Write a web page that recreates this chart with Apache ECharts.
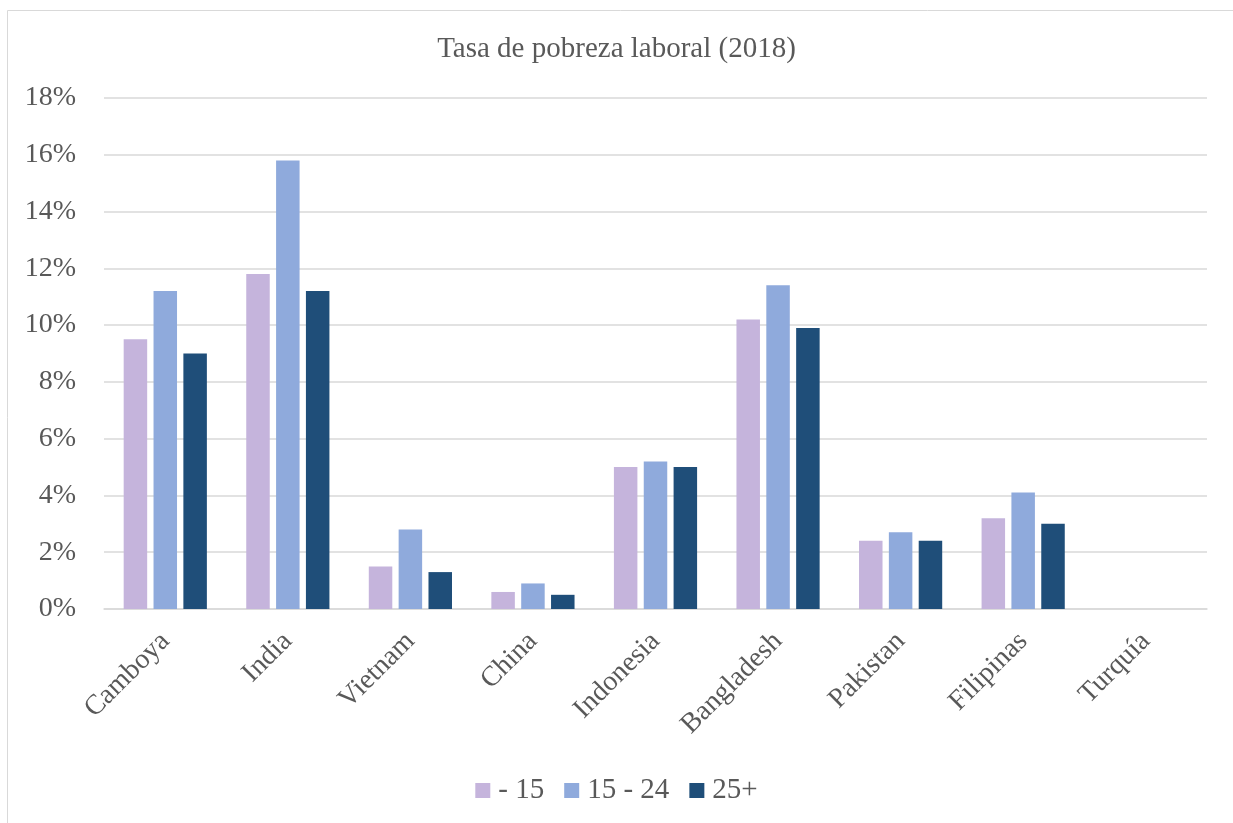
<!DOCTYPE html>
<html><head><meta charset="utf-8">
<script src="https://cdn.jsdelivr.net/npm/echarts@6/dist/echarts.min.js"></script>
<style>html,body{margin:0;padding:0;background:#fff}#c{width:1233px;height:823px}</style>
</head><body><div id="c"></div>
<script>
const categories = ['Camboya','India','Vietnam','China','Indonesia','Bangladesh','Pakistan','Filipinas','Turquía'];
const seriesNames = ['- 15','15 - 24','25+'];
const under15 = [9.5, 11.8, 1.5, 0.6, 5.0, 10.2, 2.4, 3.2, 0];
const age15to24 = [11.2, 15.8, 2.8, 0.9, 5.2, 11.4, 2.7, 4.1, 0];
const age25plus = [9.0, 11.2, 1.3, 0.5, 5.0, 9.9, 2.4, 3.0, 0];
const colors = ['#C5B4DC', '#8FAADC', '#1F4E79'];
const font = '"Liberation Serif", "Times New Roman", serif';
const textColor = '#595959';

const chart = echarts.init(document.getElementById('c'));
const data = [under15, age15to24, age25plus];
chart.setOption({
  animation: false,
  textStyle: { fontFamily: font },
  graphic: [{ type: 'rect', shape: { x: 7.5, y: 10.5, width: 1240, height: 830 }, style: { fill: 'none', stroke: '#D9D9D9', lineWidth: 1 } }],
  title: { text: 'Tasa de pobreza laboral (2018)', left: 'center', top: 30, textStyle: { fontFamily: font, fontSize: 29, fontWeight: 'normal', color: textColor } },
  legend: { bottom: 13, left: 'center', itemWidth: 15, itemHeight: 15, itemGap: 20, icon: 'rect',
    textStyle: { fontFamily: font, fontSize: 29, color: textColor, padding: [0, 0, 0, 3] } , data: seriesNames },
  grid: { left: 104, right: 26, top: 98, bottom: 214, containLabel: false },
  xAxis: { type: 'category', data: categories,
    axisLine: { lineStyle: { color: '#D9D9D9', width: 1.5 } }, axisTick: { show: false },
    axisLabel: { rotate: 45, fontFamily: font, fontSize: 28, color: textColor, margin: 28, interval: 0 } },
  yAxis: { type: 'value', min: 0, max: 18, interval: 2,
    axisLine: { show: false }, axisTick: { show: false },
    splitLine: { lineStyle: { color: '#D9D9D9', width: 1.5 } },
    axisLabel: { formatter: v => v + '%', fontFamily: font, fontSize: 28, color: textColor, margin: 28 } },
  series: seriesNames.map((n, i) => ({ name: n, type: 'bar', data: data[i], barWidth: 23.5, barGap: '27%', itemStyle: { color: colors[i] } }))
});
</script></body></html>
